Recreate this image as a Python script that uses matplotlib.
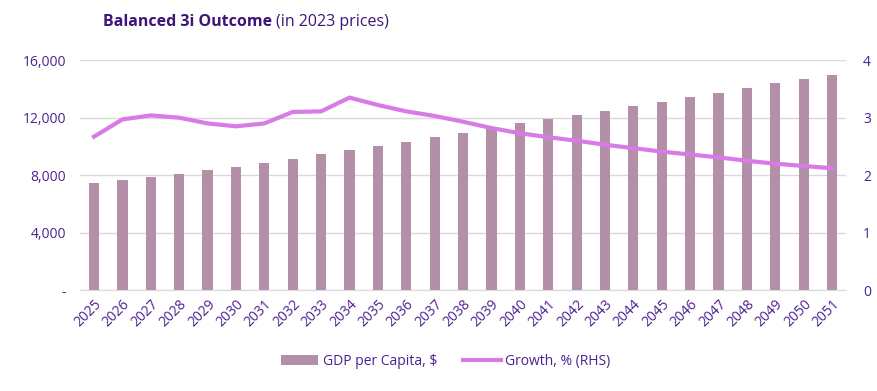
import numpy as np
import matplotlib.pyplot as plt
from matplotlib.ticker import FuncFormatter

years = list(range(2025, 2052))
gdp_pc = [7440, 7650, 7860, 8070, 8350, 8560, 8830, 9110, 9460, 9740,
          10020, 10300, 10630, 10920, 11290, 11600, 11900, 12200, 12500, 12800,
          13100, 13450, 13750, 14070, 14380, 14680, 14980]
growth = [2.67, 2.97, 3.04, 3.00, 2.90, 2.85, 2.90, 3.10, 3.11, 3.35,
          3.22, 3.11, 3.03, 2.93, 2.82, 2.73, 2.66, 2.60, 2.53, 2.47,
          2.41, 2.36, 2.31, 2.25, 2.20, 2.16, 2.12]

bar_col = "#B48FA8"
line_col = "#D97BE6"
txt_col = "#4B2190"
title_col = "#3D1478"

plt.rcParams['font.family'] = ['Open Sans', 'DejaVu Sans']

fig = plt.figure(figsize=(8.77, 3.91), dpi=100)
ax = fig.add_axes([0.091, 0.258, 0.874, 0.588])
ax2 = ax.twinx()

x = np.arange(len(years))
bars = ax.bar(x, gdp_pc, width=0.36, color=bar_col, zorder=2, label="GDP per Capita, $")
ln, = ax2.plot(x, growth, color=line_col, lw=3, zorder=3, label="Growth, % (RHS)")

ax.set_xlim(-0.5, len(years) - 0.5)
ax.set_ylim(0, 16000)
ax.set_yticks([0, 4000, 8000, 12000, 16000])
ax.yaxis.set_major_formatter(FuncFormatter(lambda v, p: "-" if v == 0 else f"{int(v):,}"))
ax2.set_ylim(0, 4)
ax2.set_yticks([0, 1, 2, 3, 4])

ax.grid(axis='y', color='#D9D9D9', lw=1, zorder=0)
ax.set_axisbelow(True)
ax.set_xticks(x)
ax.set_xticklabels([str(y) for y in years], rotation=45, ha='right', rotation_mode='anchor')

for a in (ax, ax2):
    for s in a.spines.values():
        s.set_visible(False)
    a.tick_params(length=0, colors=txt_col, labelsize=10)
ax.spines['bottom'].set_visible(True)
ax.spines['bottom'].set_color('#D9D9D9')
ax.tick_params(axis='y', pad=10)
ax.tick_params(axis='x', pad=5)
ax2.tick_params(axis='y', pad=12)

fig.text(0.118, 0.945, "Balanced 3i Outcome", fontsize=11.5, fontweight='bold', color=title_col, ha='left', va='center')
fig.text(0.315, 0.945, "(in 2023 prices)", fontsize=11.5, color=title_col, ha='left', va='center')

leg = fig.legend([bars, ln], ["GDP per Capita, $", "Growth, % (RHS)"], loc='center',
                 bbox_to_anchor=(0.508, 0.075), ncol=2, frameon=False, fontsize=10,
                 handlelength=2.7, handletextpad=0.3, columnspacing=1.9)
for t in leg.get_texts():
    t.set_color(txt_col)

fig.savefig("out.png", dpi=100)
